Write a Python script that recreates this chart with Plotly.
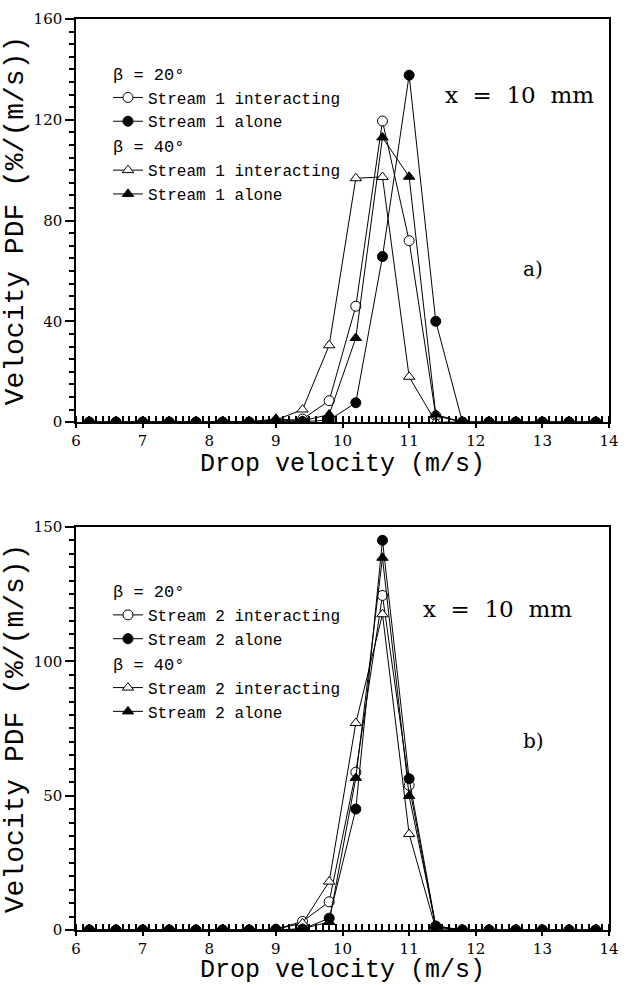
import plotly.graph_objects as go

velocity = [6.2, 6.6, 7.0, 7.4, 7.8, 8.2, 8.6, 9.0, 9.4, 9.8, 10.2, 10.6, 11.0, 11.4, 11.8, 12.2, 12.6, 13.0, 13.4, 13.8]

# Panel a) Stream 1
a_b20_interacting = [0, 0, 0, 0, 0, 0, 0, 0.2, 1.2, 8.5, 46, 119.5, 72, 2.5, 0, 0, 0, 0, 0, 0]
a_b20_alone       = [0, 0, 0, 0, 0, 0, 0, 0, 0.2, 0.8, 7.7, 65.7, 137.7, 40, 0, 0, 0, 0, 0, 0]
a_b40_interacting = [0, 0, 0, 0, 0, 0, 0.2, 0.8, 5, 30.5, 96.8, 97.3, 18, 0, 0, 0, 0, 0, 0, 0]
a_b40_alone       = [0, 0, 0, 0, 0, 0, 0, 1.3, 0.5, 3, 33.4, 113, 97.4, 3, 0, 0, 0, 0, 0, 0]

# Panel b) Stream 2
b_b20_interacting = [0, 0, 0, 0, 0, 0, 0, 0.3, 3.2, 10.5, 58.7, 124.5, 53.8, 1, 0, 0, 0, 0, 0, 0]
b_b20_alone       = [0, 0, 0, 0, 0, 0, 0, 0, 0.3, 4.4, 45, 145, 56.3, 1.5, 0, 0, 0, 0, 0, 0]
b_b40_interacting = [0, 0, 0, 0, 0, 0, 0, 0.3, 2.5, 18, 77, 117.5, 35.7, 0.5, 0, 0, 0, 0, 0, 0]
b_b40_alone       = [0, 0, 0, 0, 0, 0, 0, 0, 0.5, 3, 56.6, 138.5, 49.9, 1.5, 0, 0, 0, 0, 0, 0]

x_range = [6, 14]
ya_range = [0, 160]
yb_range = [0, 150]

SERIF = "DejaVu Serif"
MONO = "Liberation Mono"

fig = go.Figure()

def add(y, name, symbol, filled, group, gtitle, xa, ya, legend):
    fig.add_trace(go.Scatter(
        x=velocity, y=y, name=name, mode="lines+markers",
        line=dict(color="black", width=1),
        marker=dict(symbol=symbol, size=10, color="black" if filled else "white",
                    line=dict(color="black", width=1)),
        legendgroup=group,
        legendgrouptitle=dict(text=gtitle, font=dict(family=MONO, size=17, color="black")),
        xaxis=xa, yaxis=ya, legend=legend))

add(a_b20_interacting, "Stream 1 interacting", "circle", False, "a20", "β = 20°", "x", "y", "legend")
add(a_b40_interacting, "Stream 1 interacting", "triangle-up", False, "a40", "β = 40°", "x", "y", "legend")
add(a_b40_alone, "Stream 1 alone", "triangle-up", True, "a40", "β = 40°", "x", "y", "legend")
add(a_b20_alone, "Stream 1 alone", "circle", True, "a20", "β = 20°", "x", "y", "legend")

add(b_b20_interacting, "Stream 2 interacting", "circle", False, "b20", "β = 20°", "x2", "y2", "legend2")
add(b_b40_interacting, "Stream 2 interacting", "triangle-up", False, "b40", "β = 40°", "x2", "y2", "legend2")
add(b_b40_alone, "Stream 2 alone", "triangle-up", True, "b40", "β = 40°", "x2", "y2", "legend2")
add(b_b20_alone, "Stream 2 alone", "circle", True, "b20", "β = 20°", "x2", "y2", "legend2")

xcommon = dict(range=x_range, dtick=1, tick0=6, ticks="outside", ticklen=4, tickwidth=1.5,
               minor=dict(dtick=0.1, tick0=6, ticks="inside", ticklen=6, tickwidth=1.5, tickcolor="black"),
               showline=True, linecolor="black", linewidth=1.5, mirror=True,
               showgrid=False, zeroline=False, tickcolor="black",
               tickfont=dict(family=SERIF, size=15, color="black"),
               title=dict(text="Drop velocity (m/s)", font=dict(family=MONO, size=25, color="black"), standoff=0))
ycommon = dict(ticks="outside", ticklen=9, tickwidth=1.5, tickcolor="black",
               minor=dict(dtick=5, tick0=0, ticks="outside", ticklen=5, tickwidth=1.5, tickcolor="black"),
               showline=True, linecolor="black", linewidth=1.5, mirror=True,
               showgrid=False, zeroline=False,
               tickfont=dict(family=SERIF, size=15, color="black"),
               title=dict(text="Velocity PDF (%/(m/s))", font=dict(family=MONO, size=28, color="black"), standoff=2))

fig.update_layout(
    width=629, height=985,
    margin=dict(l=76, r=10, t=17, b=50),
    paper_bgcolor="white", plot_bgcolor="white",
    showlegend=True,
    xaxis=dict(domain=[0, 1], anchor="y", **xcommon),
    yaxis=dict(domain=[0.5575, 1], anchor="x", range=ya_range, dtick=40, **ycommon),
    xaxis2=dict(domain=[0, 1], anchor="y2", **xcommon),
    yaxis2=dict(domain=[0, 0.4425], anchor="x2", range=yb_range, dtick=50, **ycommon),
    legend=dict(x=0.06, y=0.960, xanchor="left", yanchor="top", bgcolor="rgba(0,0,0,0)",
                font=dict(family=MONO, size=16, color="black"), tracegroupgap=0, itemwidth=30,
                traceorder="grouped"),
    legend2=dict(x=0.06, y=0.392, xanchor="left", yanchor="top", bgcolor="rgba(0,0,0,0)",
                 font=dict(family=MONO, size=16, color="black"), tracegroupgap=0, itemwidth=30,
                 traceorder="grouped"),
    annotations=[
        dict(text="x  =  10  mm", x=0.832, y=0.917, xref="paper", yref="paper", showarrow=False,
             xanchor="center", yanchor="middle", font=dict(family=SERIF, size=23, color="black")),
        dict(text="a)", x=0.858, y=0.726, xref="paper", yref="paper", showarrow=False,
             xanchor="center", yanchor="middle", font=dict(family=SERIF, size=20, color="black")),
        dict(text="x  =  10  mm", x=0.79, y=0.352, xref="paper", yref="paper", showarrow=False,
             xanchor="center", yanchor="middle", font=dict(family=SERIF, size=23, color="black")),
        dict(text="b)", x=0.858, y=0.208, xref="paper", yref="paper", showarrow=False,
             xanchor="center", yanchor="middle", font=dict(family=SERIF, size=20, color="black")),
    ],
)

fig.write_html("out.html")
